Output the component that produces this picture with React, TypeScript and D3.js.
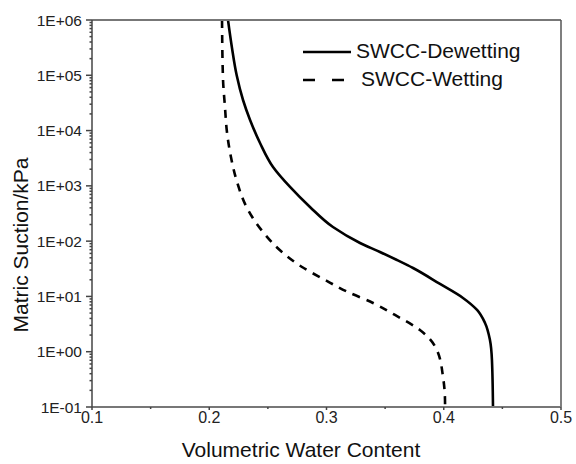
import React from "react";
import * as d3 from "d3";

const dewetTheta = [0.216, 0.2194, 0.2234, 0.2288, 0.2348, 0.2433, 0.2544, 0.2689, 0.2859, 0.3055, 0.3286, 0.3456, 0.3601, 0.3738, 0.3968, 0.4164, 0.4284, 0.4352, 0.4394, 0.4411, 0.442];
const dewetSuction = [1e6, 311900, 100000, 35730, 15520, 5957, 2193, 955, 415, 180, 92.7, 63.7, 45.6, 32.7, 16.8, 9.38, 5.69, 3.31, 1.63, 0.708, 0.1];

const wetTheta = [0.2109, 0.2117, 0.2134, 0.2151, 0.2185, 0.2237, 0.2322, 0.2458, 0.262, 0.2791, 0.2987, 0.3183, 0.3397, 0.3584, 0.3797, 0.3942, 0.3994, 0.4011, 0.4011];
const wetSuction = [1e6, 89330, 26670, 9419, 3327, 1175, 398, 146.6, 63.7, 34.1, 19.9, 12.0, 7.62, 4.62, 2.47, 1.07, 0.349, 0.118, 0.1];

const xTicks = [0.1, 0.2, 0.3, 0.4, 0.5];
const xMinorTicks = [0.15, 0.25, 0.35, 0.45];
const yTicks = [0.1, 1, 10, 100, 1000, 10000, 100000, 1000000];
const yTickLabels = ["1E-01", "1E+00", "1E+01", "1E+02", "1E+03", "1E+04", "1E+05", "1E+06"];

const seriesNames = ["SWCC-Dewetting", "SWCC-Wetting"];
const xTitle = "Volumetric Water Content";
const yTitle = "Matric Suction/kPa";

const W = 576;
const H = 464;
const left = 92, right = 561, top = 20, bottom = 407;
const font = "Arial, 'Liberation Sans', Helvetica, sans-serif";

export default function App() {
  const x = d3.scaleLinear().domain([0.1, 0.5]).range([left, right]);
  const y = d3.scaleLog().domain([0.1, 1e6]).range([bottom, top]);

  const line = d3
    .line<[number, number]>()
    .x((d) => x(d[0]))
    .y((d) => y(d[1]))
    .curve(d3.curveMonotoneY);

  const dewet: [number, number][] = dewetTheta.map((t, i) => [t, dewetSuction[i]]);
  const wet: [number, number][] = wetTheta.map((t, i) => [t, wetSuction[i]]);

  const yMinor: number[] = [];
  for (let e = -1; e < 6; e++) {
    for (let m = 2; m <= 9; m++) yMinor.push(m * Math.pow(10, e));
  }

  return (
    <svg width={W} height={H} style={{ position: "absolute", left: 0, top: 0, background: "#fff" }}>
      <rect x={0} y={0} width={W} height={H} fill="#fff" />
      <defs>
        <clipPath id="plot">
          <rect x={left} y={top} width={right - left} height={bottom - top} />
        </clipPath>
      </defs>
      {/* curves */}
      <g clipPath="url(#plot)">
        <path d={line(dewet) || ""} fill="none" stroke="#000" strokeWidth={2.6} />
        <path d={line(wet) || ""} fill="none" stroke="#000" strokeWidth={2.6} strokeDasharray="8,7" />
      </g>
      {/* frame */}
      <line x1={left} x2={right} y1={top} y2={top} stroke="#777" strokeWidth={2} />
      <line x1={right} x2={right} y1={top} y2={bottom} stroke="#555" strokeWidth={1.5} />
      <line x1={left} x2={right} y1={bottom} y2={bottom} stroke="#777" strokeWidth={2} />
      <line x1={left} x2={left} y1={top} y2={bottom} stroke="#444" strokeWidth={1.5} />
      {/* y ticks */}
      {yMinor.map((v, i) => (
        <line key={"ym" + i} x1={left - 2.5} x2={left} y1={y(v)} y2={y(v)} stroke="#444" strokeWidth={1.5} />
      ))}
      {yTicks.map((v, i) => (
        <g key={"y" + i}>
          <line x1={left - 6} x2={left} y1={y(v)} y2={y(v)} stroke="#444" strokeWidth={1.5} />
          <text x={82} y={y(v)} dy="0.36em" textAnchor="end" fontFamily={font} fontSize={15.5} fill="#222">
            {yTickLabels[i]}
          </text>
        </g>
      ))}
      {/* x ticks */}
      {xMinorTicks.map((v, i) => (
        <line key={"xm" + i} x1={x(v)} x2={x(v)} y1={bottom} y2={bottom + 2} stroke="#444" strokeWidth={1.5} />
      ))}
      {xTicks.map((v, i) => (
        <g key={"x" + i}>
          <line x1={x(v)} x2={x(v)} y1={bottom} y2={bottom + 3} stroke="#444" strokeWidth={1.5} />
          <text x={x(v)} y={423} textAnchor="middle" fontFamily={font} fontSize={16} fill="#222">
            {d3.format(".1f")(v)}
          </text>
        </g>
      ))}
      {/* axis titles */}
      <text x={301} y={457} textAnchor="middle" fontFamily={font} fontSize={21} fill="#111">
        {xTitle}
      </text>
      <text
        transform={`translate(28,245) rotate(-90)`}
        textAnchor="middle"
        fontFamily={font}
        fontSize={21}
        fill="#111"
      >
        {yTitle}
      </text>
      {/* legend */}
      <line x1={303} x2={351} y1={52} y2={52} stroke="#000" strokeWidth={2.6} />
      <text x={356} y={58} fontFamily={font} fontSize={21} fill="#111">
        {seriesNames[0]}
      </text>
      <line x1={303} x2={345} y1={80} y2={80} stroke="#000" strokeWidth={2.6} strokeDasharray="12,17" />
      <text x={361} y={86} fontFamily={font} fontSize={21} fill="#111">
        {seriesNames[1]}
      </text>
    </svg>
  );
}
